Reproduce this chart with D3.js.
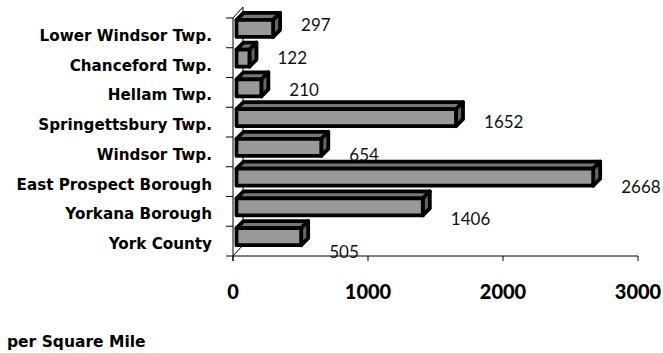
<!DOCTYPE html>
<html><head><meta charset="utf-8">
<script src="https://cdn.jsdelivr.net/npm/d3@7"></script>
<style>body{margin:0;background:#fff}svg{display:block}</style>
</head><body>
<script>
const categories = ["Lower Windsor Twp.","Chanceford Twp.","Hellam Twp.","Springettsbury Twp.","Windsor Twp.","East Prospect Borough","Yorkana Borough","York County"];
const values = [297,122,210,1652,654,2668,1406,505];
const xTicks = [0,1000,2000,3000];
const footnote = "per Square Mile";

const W=663,H=353;
const svg=d3.select("body").append("svg").attr("width",W).attr("height",H);
const font="'Lato','Noto Sans',sans-serif";
const wide="'DejaVu Sans',sans-serif";
const x=d3.scaleLinear().domain([0,3000]).range([233,638]);
const y=d3.scaleBand().domain(categories).range([18,256]).padding(0);
const dx=10,dy=-11; // wall depth
const bdx=7,bdy=-7; // bar depth

const g=svg.append("g").attr("stroke","#000").attr("stroke-width",1).attr("fill","none");
g.append("line").attr("x1",x(0)+dx).attr("x2",x(0)+dx).attr("y1",y.range()[0]+dy).attr("y2",y.range()[1]+dy);
g.append("line").attr("x1",x(0)).attr("x2",x(0)+dx).attr("y1",y.range()[0]).attr("y2",y.range()[0]+dy);
g.append("line").attr("x1",x(0)).attr("x2",x(0)+dx).attr("y1",y.range()[1]).attr("y2",y.range()[1]+dy);
g.append("line").attr("x1",x(0)).attr("x2",x(0)).attr("y1",y.range()[0]).attr("y2",y.range()[1]+5);
const bounds=categories.map(c=>y(c)).concat([y.range()[1]]);
g.selectAll(".yt").data(bounds).join("line").attr("x1",x(0)-7).attr("x2",x(0)).attr("y1",d=>d).attr("y2",d=>d);
g.append("line").attr("x1",x(0)).attr("x2",x(3000)).attr("y1",y.range()[1]).attr("y2",y.range()[1]);
g.selectAll(".xt").data(xTicks).join("line").attr("x1",d=>x(d)).attr("x2",d=>x(d)).attr("y1",y.range()[1]).attr("y2",y.range()[1]+5);

const bars=svg.append("g").attr("stroke","#000").attr("stroke-width",3.8).attr("stroke-linejoin","round");
categories.forEach((c,i)=>{
  const cy=y(c)+y.bandwidth()/2;
  const xl=x(0)+3.5, xr=x(values[i]);
  const yt=cy-13, yb=cy+4;
  bars.append("path").attr("fill","#777").attr("d",`M${xl},${yt}L${xl+bdx},${yt+bdy}L${xr+bdx},${yt+bdy}L${xr},${yt}Z`);
  bars.append("path").attr("fill","#666").attr("d",`M${xr},${yt}L${xr+bdx},${yt+bdy}L${xr+bdx},${yb+bdy}L${xr},${yb}Z`);
  bars.append("rect").attr("fill","#999").attr("x",xl).attr("y",yt).attr("width",xr-xl).attr("height",yb-yt);
});

svg.append("g").selectAll("text").data(values).join("text")
  .attr("x",d=>x(d)+28)
  .attr("y",(d,i)=>y(categories[i])+y.bandwidth()/2+1.1+2.6*(i-3.5))
  .attr("dominant-baseline","central")
  .attr("font-family",font).attr("font-size",17).attr("fill","#111")
  .text(d=>d);

svg.append("g").selectAll("text").data(categories).join("text")
  .attr("x",212).attr("y",d=>y(d)+y.bandwidth()/2+3)
  .attr("text-anchor","end").attr("dominant-baseline","central")
  .attr("font-family",wide).attr("font-weight","bold").attr("font-size",15.2).attr("fill","#000")
  .text(d=>d);

svg.append("g").selectAll("text").data(xTicks).join("text")
  .attr("x",d=>x(d)).attr("y",291)
  .attr("text-anchor","middle").attr("dominant-baseline","central")
  .attr("font-family",font).attr("font-weight",900).attr("font-size",20).attr("fill","#000")
  .text(d=>d);

svg.append("text").attr("x",7).attr("y",347)
  .attr("font-family",wide).attr("font-weight","bold").attr("font-size",15.5).attr("fill","#000")
  .text(footnote);
</script>
</body></html>
